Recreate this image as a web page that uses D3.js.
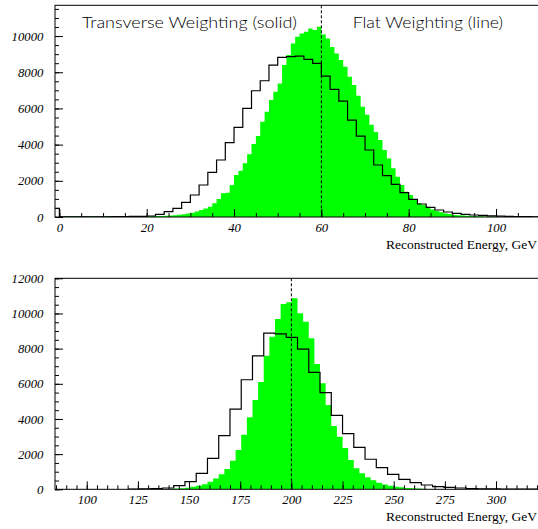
<!DOCTYPE html>
<html>
<head>
<meta charset="utf-8">
<script src="https://cdn.jsdelivr.net/npm/d3@7"></script>
<style>
body { margin: 0; background: #fff; }
svg { display: block; }
</style>
</head>
<body>
<svg id="chart" width="538" height="529"></svg>
<script>
"use strict";

// ---- top panel, 60 GeV ----
var topGreenStart = 0, topGreenWidth = 1;   // transverse weighting, 1 GeV bins
var topGreen = [
	30, 28, 30, 32, 30, 28, 30, 32, 34, 32, 34, 36, 34, 36, 38, 38, 40, 42, 44, 46,
	40, 45, 50, 60, 70, 85, 100, 120, 150, 190,
	240, 300, 387, 470, 571, 755, 994, 1310, 1343, 1768,
	2320, 2560, 2965, 3462, 4033, 4475, 5267, 5820, 6464, 6920,
	7385, 8398, 8950, 9595, 9963, 10147, 10239, 10424, 10331, 10515,
	10090, 9870, 9400, 9040, 8680, 8300, 7750, 7300, 6700, 6100,
	5650, 5100, 4700, 4250, 3700, 3240, 2700, 2230, 1770, 1400,
	1210, 980, 760, 660, 570, 420, 330, 260, 200, 165,
	110, 92, 80, 65, 55, 45, 38, 32, 28, 24,
	20, 18, 16, 14, 13, 12, 11, 10, 10, 9
];
var topBlackStart = -2, topBlackWidth = 2;   // flat weighting, 2 GeV bins
var topBlack = [
	480,
	14, 10, 10, 12, 12, 14, 18, 22, 30, 40,
	55, 147, 294, 479, 810, 1215, 1768, 2470, 3149, 4105,
	4956, 6006, 6978, 7530, 8398, 8821, 8858, 8895, 8711, 8490,
	7790, 7055, 6409, 5359, 4475, 3702, 2873, 2282, 1805, 1343,
	978, 718, 536, 387, 276, 204, 149, 110, 85, 65,
	50, 38, 28, 20, 15
];
var topXLabels = [0, 20, 40, 60, 80, 100];
var topYLabels = [0, 2000, 4000, 6000, 8000, 10000];
var topEnergy = 60;

// ---- bottom panel, 200 GeV ----
var botGreenStart = 120.5, botGreenWidth = 2.75;
var botGreen = [
	5, 6, 7, 8, 10, 12, 15, 25, 40, 60,
	90, 140, 200, 290, 430, 620, 860, 1150, 1620, 2240,
	3100, 4100, 5080, 6100, 7600, 8680, 9685, 10538, 10633, 10861,
	10007, 9533, 8585, 7126, 6028, 4794, 3600, 2993, 2350, 1667,
	1193, 910, 682, 520, 375, 280, 205, 148, 110, 75,
	55, 40, 30, 22, 15, 12, 10, 8, 7, 6,
	5, 5, 4, 4, 3, 3, 3, 2, 2, 2, 2, 2
];
var botBlackStart = 120.5, botBlackWidth = 5.5;
var botBlack = [
	10, 20, 40, 75, 210, 432, 910, 1760, 3050, 4560,
	6230, 7590, 8880, 8840, 8640, 7970, 6650, 5500, 4200, 3170,
	2390, 1710, 1229, 853, 569, 375, 245, 148, 114, 74,
	45, 30, 20, 14, 10, 8, 6
];
var botXLabels = [100, 125, 150, 175, 200, 225, 250, 275, 300];
var botYLabels = [0, 2000, 4000, 6000, 8000, 10000, 12000];
var botEnergy = 200;

var axisTitle = "Reconstructed Energy, GeV";

var svg = d3.select("#chart");
var green = "#00ff00";

function steps(start, width, counts) {
	var pts = counts.map(function (c, i) { return [start + i * width, c]; });
	pts.push([start + counts.length * width, counts[counts.length - 1]]);
	return pts;
}

function panel(p) {
	var x = d3.scaleLinear().domain(p.xDomain).range([55, p.xRight]);
	var y = d3.scaleLinear().domain(p.yDomain).range([p.bottom, p.top]);
	var g = svg.append("g");

	g.append("clipPath").attr("id", p.id + "clip")
		.append("rect")
		.attr("x", 55).attr("y", p.top)
		.attr("width", p.xRight - 55).attr("height", p.bottom - p.top);

	var plot = g.append("g").attr("clip-path", "url(#" + p.id + "clip)");

	var area = d3.area()
		.x(function (d) { return x(d[0]); })
		.y0(y(0))
		.y1(function (d) { return y(d[1]); })
		.curve(d3.curveStepAfter);
	plot.append("path")
		.datum(steps(p.greenStart, p.greenWidth, p.green))
		.attr("fill", green)
		.attr("d", area);

	var bl = steps(p.blackStart, p.blackWidth, p.black);
	bl.unshift([p.blackStart, 0]);
	bl.push([bl[bl.length - 1][0], 0]);
	var line = d3.line()
		.x(function (d) { return x(d[0]); })
		.y(function (d) { return y(d[1]); })
		.curve(d3.curveStepAfter);
	plot.append("path")
		.datum(bl)
		.attr("fill", "none")
		.attr("stroke", "#000")
		.attr("stroke-width", 1.2)
		.attr("d", line);

	// dashed line at beam energy
	g.append("line")
		.attr("x1", x(p.energy)).attr("x2", x(p.energy))
		.attr("y1", p.top).attr("y2", p.bottom)
		.attr("stroke", "#000")
		.attr("stroke-width", 1)
		.attr("stroke-dasharray", "3,2");

	// frame
	g.append("rect")
		.attr("x", 55).attr("y", p.top)
		.attr("width", p.xRight - 55).attr("height", p.bottom - p.top)
		.attr("fill", "none")
		.attr("stroke", "#000")
		.attr("stroke-width", 1);

	// x axis : minor + labelled major ticks, pointing inside
	var xMinor = d3.range(Math.ceil(p.xDomain[0] / p.xMinor) * p.xMinor, p.xDomain[1], p.xMinor);
	g.append("g")
		.attr("transform", "translate(0," + p.bottom + ")")
		.call(d3.axisBottom(x).tickValues(xMinor).tickSizeInner(-4).tickSizeOuter(0).tickFormat(""))
		.call(function (a) { a.select(".domain").remove(); });
	g.append("g")
		.attr("class", "lab")
		.attr("transform", "translate(0," + p.bottom + ")")
		.call(d3.axisBottom(x).tickValues(p.xLabels).tickSizeInner(-8).tickSizeOuter(0).tickPadding(6).tickFormat(d3.format("d")))
		.call(function (a) { a.select(".domain").remove(); });

	// y axis
	var yMinor = d3.range(0, p.yDomain[1] + 1, 500);
	g.append("g")
		.attr("transform", "translate(55,0)")
		.call(d3.axisLeft(y).tickValues(yMinor).tickSizeInner(-4).tickSizeOuter(0).tickFormat(""))
		.call(function (a) { a.select(".domain").remove(); });
	g.append("g")
		.attr("class", "lab")
		.attr("transform", "translate(55,0)")
		.call(d3.axisLeft(y).tickValues(p.yLabels).tickSizeInner(-8).tickSizeOuter(0).tickPadding(11.7).tickFormat(d3.format("d")))
		.call(function (a) { a.select(".domain").remove(); });

	g.selectAll(".tick line").attr("stroke", "#000");
	g.selectAll(".lab text")
		.attr("fill", "#000")
		.attr("font-family", "'Liberation Serif', 'Times New Roman', serif")
		.attr("font-style", "italic")
		.attr("font-size", "12.7px");

	g.append("text")
		.attr("x", 386)
		.attr("y", p.bottom + 31.7)
		.attr("font-family", "'Liberation Serif', 'Times New Roman', serif")
		.attr("font-size", "12.5px")
		.attr("textLength", 151)
		.attr("lengthAdjust", "spacingAndGlyphs")
		.text(axisTitle);

	return g;
}

var topPanel = panel({
	id: "top",
	xDomain: [-1, 110], xRight: 539.7, xLabels: topXLabels, xMinor: 5,
	yDomain: [0, 11700], yLabels: topYLabels,
	top: 5.3, bottom: 217,
	greenStart: topGreenStart, greenWidth: topGreenWidth, green: topGreen,
	blackStart: topBlackStart, blackWidth: topBlackWidth, black: topBlack,
	energy: topEnergy
});

panel({
	id: "bot",
	xDomain: [84.5, 321], xRight: 539, xLabels: botXLabels, xMinor: 5,
	yDomain: [0, 12000], yLabels: botYLabels,
	top: 278.3, bottom: 489.3,
	greenStart: botGreenStart, greenWidth: botGreenWidth, green: botGreen,
	blackStart: botBlackStart, blackWidth: botBlackWidth, black: botBlack,
	energy: botEnergy
});

// legend texts in the top panel
topPanel.append("text")
	.attr("x", 82).attr("y", 28.3)
	.attr("font-family", "Lato, 'DejaVu Sans', sans-serif")
	.attr("font-weight", 300)
	.attr("font-size", "16.5px")
	.attr("textLength", 215)
	.attr("lengthAdjust", "spacingAndGlyphs")
	.text("Transverse Weighting (solid)");
topPanel.append("text")
	.attr("x", 352.7).attr("y", 28.3)
	.attr("font-family", "Lato, 'DejaVu Sans', sans-serif")
	.attr("font-weight", 300)
	.attr("font-size", "16.5px")
	.attr("textLength", 150.5)
	.attr("lengthAdjust", "spacingAndGlyphs")
	.text("Flat Weighting (line)");
</script>
</body>
</html>
